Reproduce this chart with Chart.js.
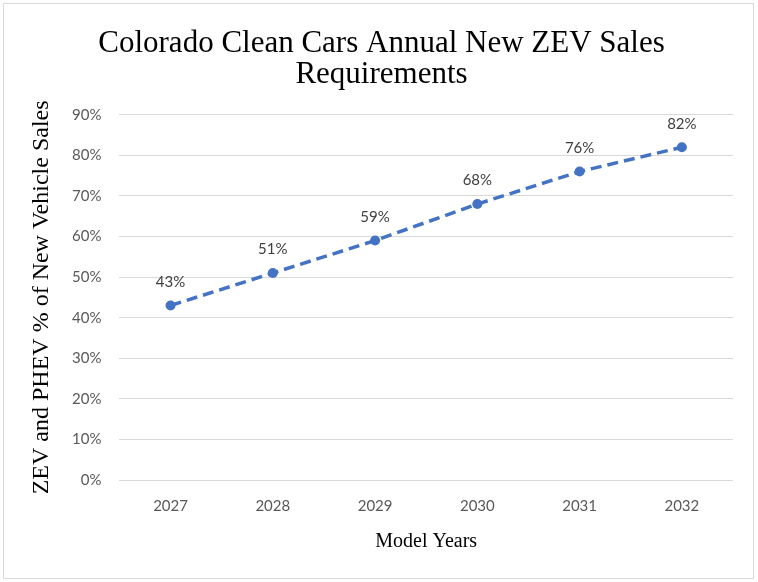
<!DOCTYPE html>
<html>
<head>
<meta charset="utf-8">
<script src="https://cdn.jsdelivr.net/npm/chart.js@4.4.1/dist/chart.umd.min.js"></script>
<style>
  body { margin: 0; background: #fff; }
  #frame { position: absolute; left: 3px; top: 3px; width: 749px; height: 574px; border: 1px solid #d9d9d9; }
  #wrap { position: absolute; left: 0; top: 0; width: 758px; height: 582px; }
</style>
</head>
<body>
<div id="frame"></div>
<div id="wrap"><canvas id="zevChart" width="758" height="582"></canvas></div>
<script>
// chart data
const years = ["2027", "2028", "2029", "2030", "2031", "2032"];
const zevShare = [43, 51, 59, 68, 76, 82];
const yTicks = [0, 10, 20, 30, 40, 50, 60, 70, 80, 90];

const lineColor = "#4472C4";

// draws the "43%" style labels above each point
const pointLabels = {
  id: "pointLabels",
  afterDatasetsDraw(chart) {
    const ctx = chart.ctx;
    const meta = chart.getDatasetMeta(0);
    ctx.save();
    ctx.font = "15px Lato";
    ctx.fillStyle = "#404040";
    ctx.textAlign = "center";
    ctx.textBaseline = "bottom";
    meta.data.forEach(function (pt, i) {
      ctx.fillText(zevShare[i] + "%", pt.x, pt.y - 16);
    });
    ctx.restore();
  }
};

document.addEventListener("DOMContentLoaded", function () {
  var ctx = document.getElementById("zevChart").getContext("2d");
  new Chart(ctx, {
    type: "line",
    data: {
      labels: years,
      datasets: [
        {
          data: zevShare,
          borderColor: lineColor,
          backgroundColor: lineColor,
          borderWidth: 3.5,
          borderDash: [11, 6],
          fill: false,
          tension: 0,
          pointRadius: 5,
          pointHoverRadius: 5,
          pointBorderWidth: 0
        }
      ]
    },
    options: {
      responsive: false,
      animation: false,
      layout: {
        padding: { left: 30, right: 25, top: 16, bottom: 28 }
      },
      scales: {
        x: {
          offset: true,
          grid: { display: false },
          border: { display: false },
          ticks: { color: "#595959", font: { family: "Lato", size: 15 }, padding: 9 },
          title: {
            display: true,
            text: "Model Years",
            color: "#000",
            font: { family: "Liberation Serif", size: 20 },
            padding: { top: 6, bottom: 0 }
          }
        },
        y: {
          min: 0,
          max: 90,
          afterBuildTicks: function (axis) {
            axis.ticks = yTicks.map(function (v) { return { value: v }; });
          },
          grid: { color: "#d9d9d9", lineWidth: 1, drawTicks: false },
          border: { display: false },
          ticks: {
            color: "#595959",
            font: { family: "Lato", size: 15 },
            padding: 18,
            callback: function (v) { return v + "%"; }
          },
          title: {
            display: true,
            text: "ZEV and PHEV % of New Vehicle Sales",
            color: "#000",
            font: { family: "Liberation Serif", size: 24, lineHeight: 1.0 },
            padding: { top: 0, bottom: 0 }
          }
        }
      },
      plugins: {
        legend: { display: false },
        tooltip: { enabled: false },
        title: {
          display: true,
          text: ["Colorado Clean Cars Annual New ZEV Sales", "Requirements"],
          color: "#000",
          font: { family: "Liberation Serif", size: 31, weight: "normal", lineHeight: 0.98 },
          padding: { top: 13, bottom: 25 }
        }
      }
    },
    plugins: [pointLabels]
  });
});
</script>
</body>
</html>
